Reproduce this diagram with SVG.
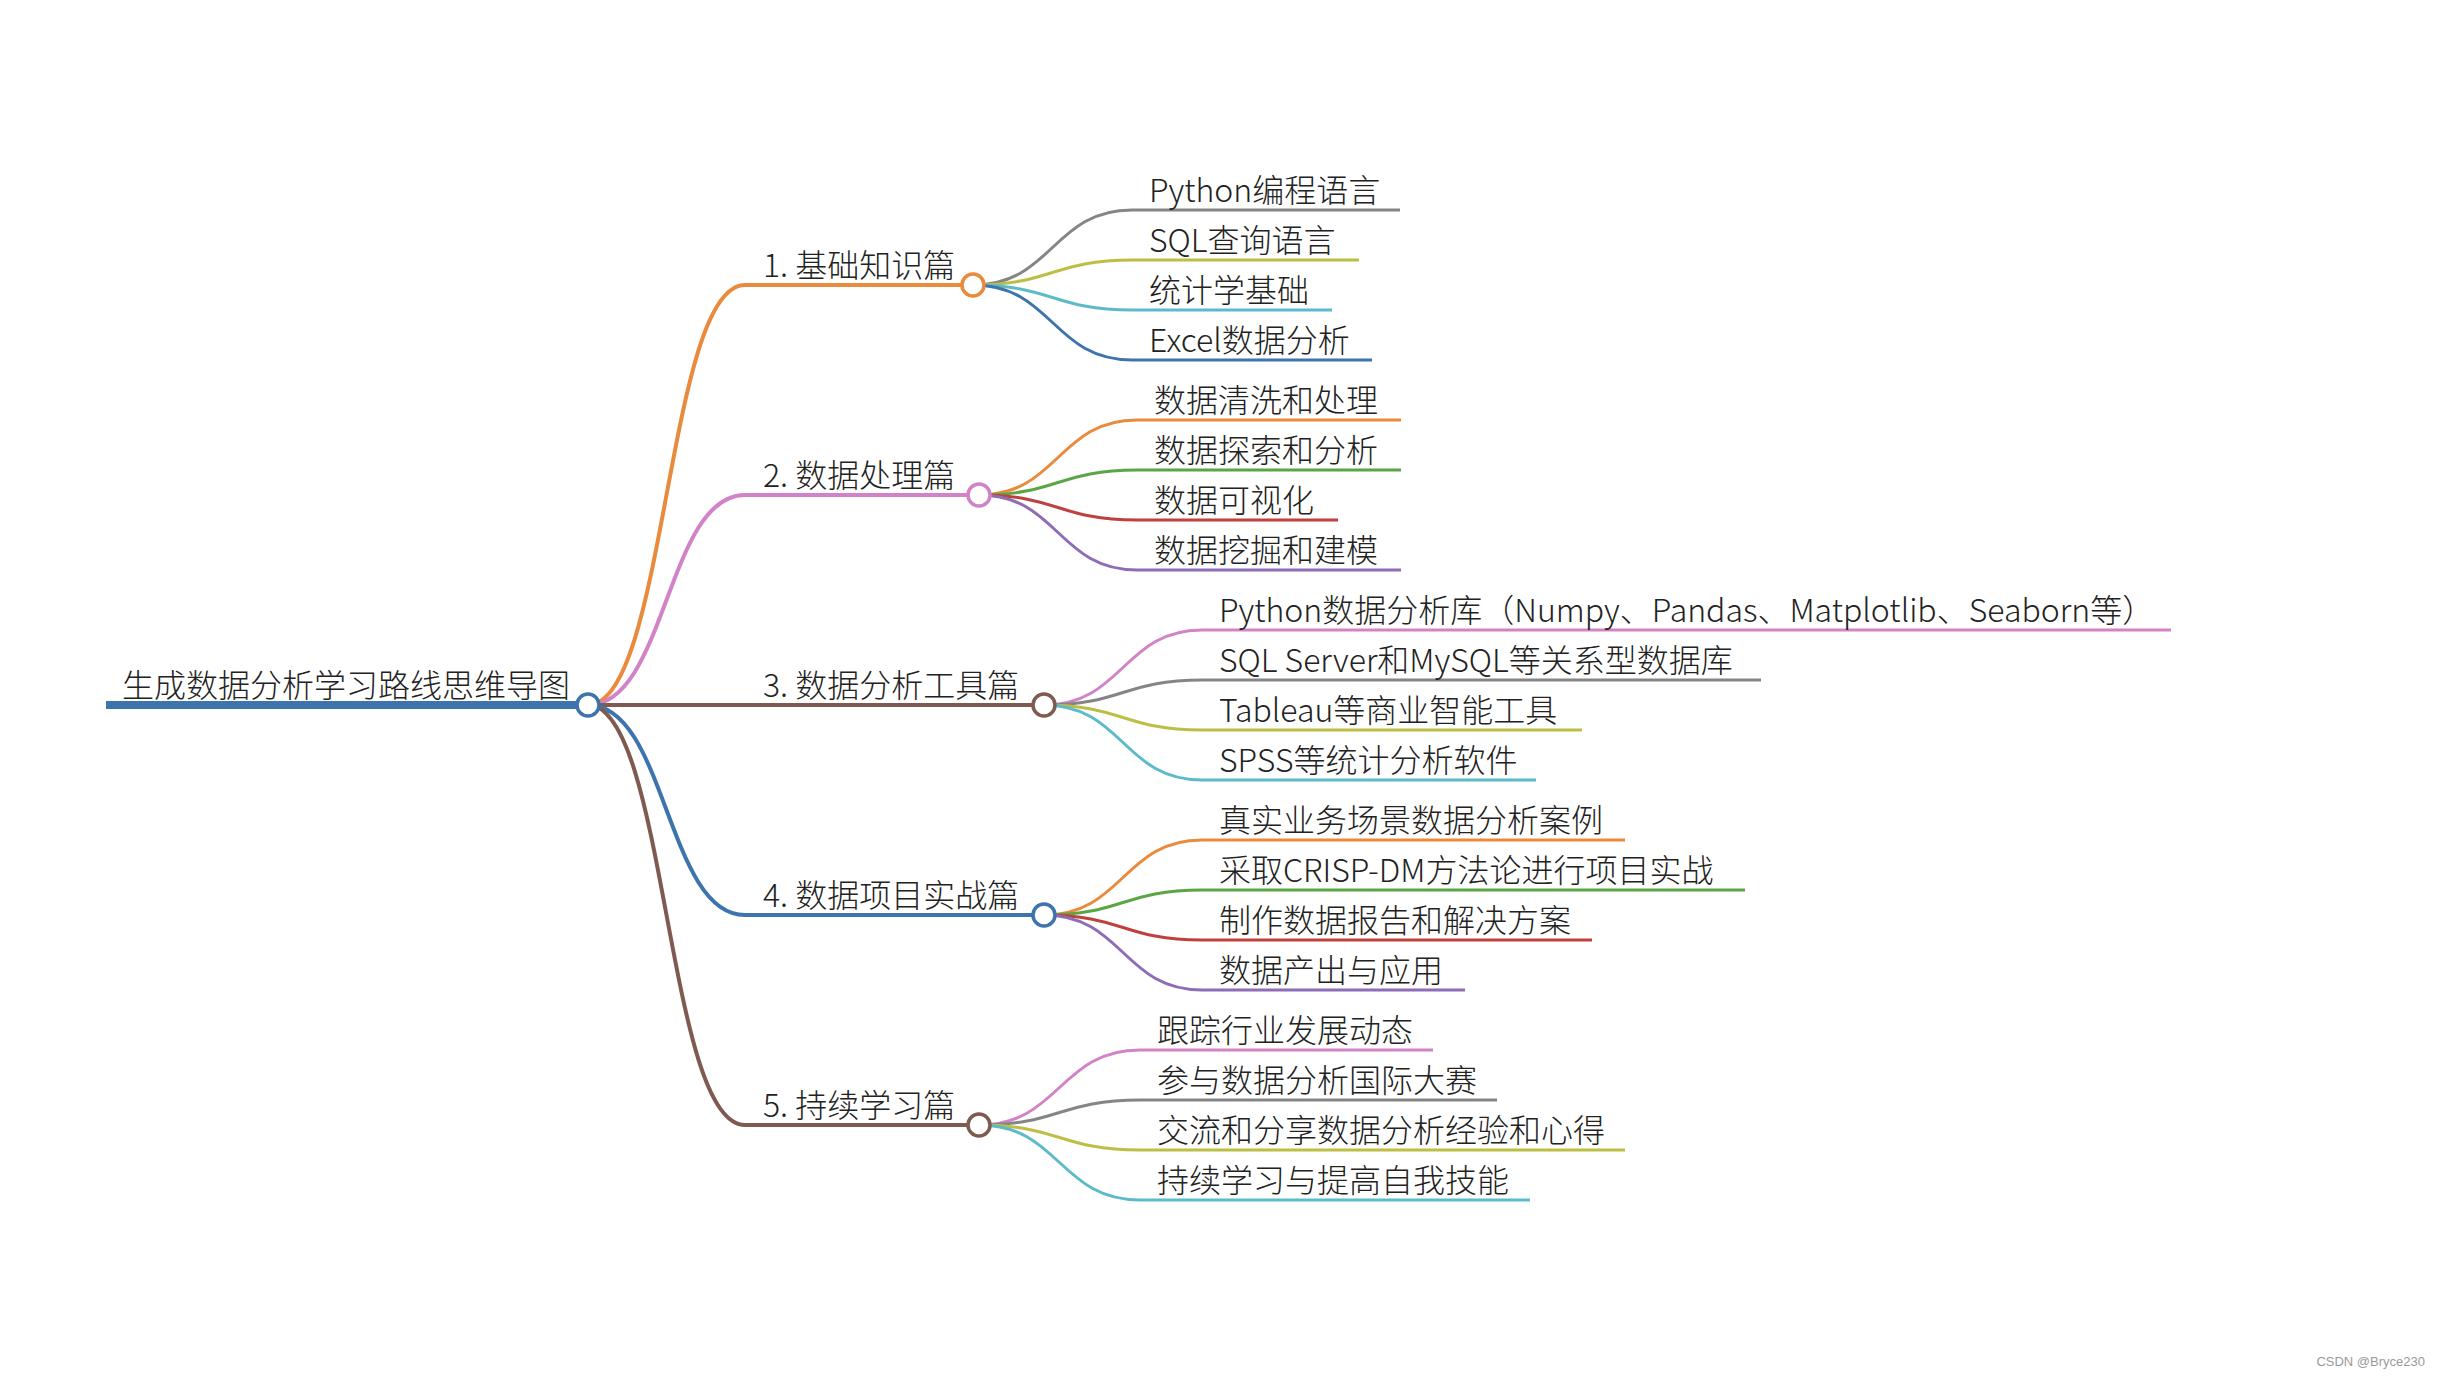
<svg xmlns="http://www.w3.org/2000/svg" width="2440" height="1380" viewBox="0 0 2440 1380">
<style>
  .t{font-family:"Noto Sans CJK SC","Noto Sans",sans-serif;font-size:32px;font-weight:300;fill:#222}
  .wm{font-family:"Liberation Sans",Arial,sans-serif;font-size:13px;fill:#9a9a9a}
  path,line{fill:none;stroke-linecap:butt}
  .w8{stroke-width:8}
  .w4{stroke-width:4}
  .w3{stroke-width:3}
  circle{fill:#fff;stroke-width:3.5}
  .orange{stroke:#E98A3C}
  .pink{stroke:#D283C7}
  .brown{stroke:#7F5A50}
  .blue{stroke:#3E74AD}
  .gray{stroke:#858585}
  .olive{stroke:#BDBE45}
  .cyan{stroke:#5DBBC9}
  .green{stroke:#5AA544}
  .red{stroke:#C0403E}
  .purple{stroke:#8E6DB6}
</style>
<rect width="2440" height="1380" fill="#fff"/>
<g id="connectors">
  <path class="w4 orange" d="M588,705 C666.5,705 666.5,285 745,285"/>
  <path class="w4 pink" d="M588,705 C666.5,705 666.5,495 745,495"/>
  <path class="w4 brown" d="M588,705 L745,705"/>
  <path class="w4 blue" d="M588,705 C666.5,705 666.5,915 745,915"/>
  <path class="w4 brown" d="M588,705 C666.5,705 666.5,1125 745,1125"/>

  <path class="w3 gray" d="M973,285 C1052.5,285 1052.5,210 1132,210"/>
  <path class="w3 olive" d="M973,285 C1052.5,285 1052.5,260 1132,260"/>
  <path class="w3 cyan" d="M973,285 C1052.5,285 1052.5,310 1132,310"/>
  <path class="w3 blue" d="M973,285 C1052.5,285 1052.5,360 1132,360"/>

  <path class="w3 orange" d="M979,495 C1058,495 1058,420 1137,420"/>
  <path class="w3 green" d="M979,495 C1058,495 1058,470 1137,470"/>
  <path class="w3 red" d="M979,495 C1058,495 1058,520 1137,520"/>
  <path class="w3 purple" d="M979,495 C1058,495 1058,570 1137,570"/>

  <path class="w3 pink" d="M1044,705 C1123,705 1123,630 1202,630"/>
  <path class="w3 gray" d="M1044,705 C1123,705 1123,680 1202,680"/>
  <path class="w3 olive" d="M1044,705 C1123,705 1123,730 1202,730"/>
  <path class="w3 cyan" d="M1044,705 C1123,705 1123,780 1202,780"/>

  <path class="w3 orange" d="M1044,915 C1123,915 1123,840 1202,840"/>
  <path class="w3 green" d="M1044,915 C1123,915 1123,890 1202,890"/>
  <path class="w3 red" d="M1044,915 C1123,915 1123,940 1202,940"/>
  <path class="w3 purple" d="M1044,915 C1123,915 1123,990 1202,990"/>

  <path class="w3 pink" d="M979,1125 C1059.5,1125 1059.5,1050 1140,1050"/>
  <path class="w3 gray" d="M979,1125 C1059.5,1125 1059.5,1100 1140,1100"/>
  <path class="w3 olive" d="M979,1125 C1059.5,1125 1059.5,1150 1140,1150"/>
  <path class="w3 cyan" d="M979,1125 C1059.5,1125 1059.5,1200 1140,1200"/>
</g>

<g id="root">
  <line class="w8 blue" x1="106" y1="705" x2="588" y2="705"/>
  <circle class="blue" cx="588" cy="705" r="11"/>
  <text class="t" x="122" y="697">生成数据分析学习路线思维导图</text>
</g>

<g id="n1">
  <line class="w4 orange" x1="745" y1="285" x2="973" y2="285"/>
  <circle class="orange" cx="973" cy="285" r="11"/>
  <text class="t" x="763" y="277">1. 基础知识篇</text>
</g>
<g id="n1-1"><line class="w3 gray" x1="1132" y1="210" x2="1400" y2="210"/><text class="t" x="1149" y="202">Python编程语言</text></g>
<g id="n1-2"><line class="w3 olive" x1="1132" y1="260" x2="1359" y2="260"/><text class="t" x="1149" y="252">SQL查询语言</text></g>
<g id="n1-3"><line class="w3 cyan" x1="1132" y1="310" x2="1332" y2="310"/><text class="t" x="1149" y="302">统计学基础</text></g>
<g id="n1-4"><line class="w3 blue" x1="1132" y1="360" x2="1372" y2="360"/><text class="t" x="1149" y="352">Excel数据分析</text></g>

<g id="n2">
  <line class="w4 pink" x1="745" y1="495" x2="979" y2="495"/>
  <circle class="pink" cx="979" cy="495" r="11"/>
  <text class="t" x="763" y="487">2. 数据处理篇</text>
</g>
<g id="n2-1"><line class="w3 orange" x1="1137" y1="420" x2="1401" y2="420"/><text class="t" x="1154" y="412">数据清洗和处理</text></g>
<g id="n2-2"><line class="w3 green" x1="1137" y1="470" x2="1401" y2="470"/><text class="t" x="1154" y="462">数据探索和分析</text></g>
<g id="n2-3"><line class="w3 red" x1="1137" y1="520" x2="1338" y2="520"/><text class="t" x="1154" y="512">数据可视化</text></g>
<g id="n2-4"><line class="w3 purple" x1="1137" y1="570" x2="1401" y2="570"/><text class="t" x="1154" y="562">数据挖掘和建模</text></g>

<g id="n3">
  <line class="w4 brown" x1="745" y1="705" x2="1044" y2="705"/>
  <circle class="brown" cx="1044" cy="705" r="11"/>
  <text class="t" x="763" y="697">3. 数据分析工具篇</text>
</g>
<g id="n3-1"><line class="w3 pink" x1="1202" y1="630" x2="2171" y2="630"/><text class="t" x="1219" y="622">Python数据分析库（Numpy、Pandas、Matplotlib、Seaborn等）</text></g>
<g id="n3-2"><line class="w3 gray" x1="1202" y1="680" x2="1761" y2="680"/><text class="t" x="1219" y="672">SQL Server和MySQL等关系型数据库</text></g>
<g id="n3-3"><line class="w3 olive" x1="1202" y1="730" x2="1582" y2="730"/><text class="t" x="1219" y="722">Tableau等商业智能工具</text></g>
<g id="n3-4"><line class="w3 cyan" x1="1202" y1="780" x2="1536" y2="780"/><text class="t" x="1219" y="772">SPSS等统计分析软件</text></g>

<g id="n4">
  <line class="w4 blue" x1="745" y1="915" x2="1044" y2="915"/>
  <circle class="blue" cx="1044" cy="915" r="11"/>
  <text class="t" x="763" y="907">4. 数据项目实战篇</text>
</g>
<g id="n4-1"><line class="w3 orange" x1="1202" y1="840" x2="1625" y2="840"/><text class="t" x="1219" y="832">真实业务场景数据分析案例</text></g>
<g id="n4-2"><line class="w3 green" x1="1202" y1="890" x2="1745" y2="890"/><text class="t" x="1219" y="882">采取CRISP-DM方法论进行项目实战</text></g>
<g id="n4-3"><line class="w3 red" x1="1202" y1="940" x2="1592" y2="940"/><text class="t" x="1219" y="932">制作数据报告和解决方案</text></g>
<g id="n4-4"><line class="w3 purple" x1="1202" y1="990" x2="1465" y2="990"/><text class="t" x="1219" y="982">数据产出与应用</text></g>

<g id="n5">
  <line class="w4 brown" x1="745" y1="1125" x2="979" y2="1125"/>
  <circle class="brown" cx="979" cy="1125" r="11"/>
  <text class="t" x="763" y="1117">5. 持续学习篇</text>
</g>
<g id="n5-1"><line class="w3 pink" x1="1140" y1="1050" x2="1433" y2="1050"/><text class="t" x="1157" y="1042">跟踪行业发展动态</text></g>
<g id="n5-2"><line class="w3 gray" x1="1140" y1="1100" x2="1497" y2="1100"/><text class="t" x="1157" y="1092">参与数据分析国际大赛</text></g>
<g id="n5-3"><line class="w3 olive" x1="1140" y1="1150" x2="1625" y2="1150"/><text class="t" x="1157" y="1142">交流和分享数据分析经验和心得</text></g>
<g id="n5-4"><line class="w3 cyan" x1="1140" y1="1200" x2="1530" y2="1200"/><text class="t" x="1157" y="1192">持续学习与提高自我技能</text></g>

<text class="wm" x="2425" y="1366" text-anchor="end">CSDN @Bryce230</text>
</svg>
